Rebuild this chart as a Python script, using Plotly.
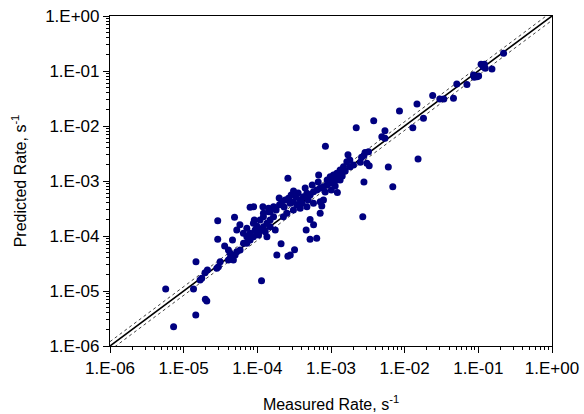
import plotly.graph_objects as go

# Measured (x) and predicted (y) rates, s^-1
measured = [
    0.22, 0.109, 0.121, 0.124, 0.153, 0.116, 0.086, 0.096, 0.101, 0.088,
    0.070, 0.051, 0.046, 0.030, 0.034, 0.024, 0.0147, 0.018, 0.0129, 0.0085,
    0.0038, 0.0022, 0.0054, 0.0049, 0.0054, 0.0029, 0.0028, 0.0026, 0.0025, 0.0033,
    0.0060, 0.0152, 0.0028, 0.0069, 0.0027, 0.0017, 0.0018,
    2.6e-4, 6.8e-4, 1.22e-3, 3.1e-4, 8.9e-5, 1.19e-4, 1.42e-4, 2.0e-4, 2.9e-5, 4.9e-5,
    5.8e-5, 9.1e-5, 1.21e-4, 7.9e-4, 7.5e-4, 5.2e-4, 5.8e-4, 4.6e-4, 5.2e-4, 6.4e-4,
    2.1e-4, 1.84e-4, 2.6e-4, 2.8e-4, 3.2e-4, 1.14e-4, 2.9e-5, 4.6e-5, 3.6e-5, 6.5e-5,
    1.47e-5, 2.1e-5, 1.95e-5, 1.76e-5, 1.67e-5, 2.82e-5, 2.96e-5, 1.36e-5, 5.7e-6, 1.97e-5,
    2.06e-5, 1.46e-5, 7.3e-6, 4.05e-5, 4.27e-5, 4.73e-5, 5.26e-5, 8.4e-4, 7.98e-5, 5.26e-5,
    7.2e-5, 8.85e-5, 7.98e-5, 6.47e-5, 7.2e-5, 8.85e-5, 9.84e-5, 1.04e-4, 4.05e-5, 4.27e-5,
    5.83e-5, 4.99e-5, 3.13e-5, 2.15e-4, 2.39e-4, 2.65e-4, 2.79e-4, 3.09e-4, 3.44e-4, 3.82e-4,
    4.23e-4, 4.71e-4, 5.21e-4, 5.78e-4, 6.43e-4, 7.13e-4, 7.91e-4, 8.79e-4, 9.75e-4, 1.08e-3,
    1.2e-3, 1.26e-3, 1.66e-4, 1.49e-4, 1.35e-4, 1.21e-4, 1.09e-4, 9.84e-5, 7.98e-5, 7.2e-5,
    1.66e-4, 1.49e-4, 1.09e-4, 2.26e-4, 2.52e-4, 3.09e-4, 3.82e-4, 4.71e-4, 5.78e-4, 7.13e-4,
    1.64e-3, 3.23e-3, 3.07e-3, 1.48e-3, 1.33e-3, 1.2e-3, 1.08e-3, 9.75e-4, 1.82e-3, 2.02e-3,
    7.13e-4, 1.28e-4, 1.35e-4, 1.49e-4, 1.75e-4, 1.21e-4, 1.42e-4, 1.04e-4, 9.33e-5, 3.58e-4,
    4.46e-4, 5.56e-4, 6.7e-4, 8.34e-4, 1.01e-3, 3.37e-4, 4.9e-4, 1.8e-4, 1.98e-4, 2.31e-4,
    2.88e-4, 4.06e-4, 8.87e-4, 1.14e-3, 1.42e-3, 1.56e-3, 1.33e-3,
]
predicted = [
    0.21, 0.132, 0.132, 0.112, 0.109, 0.12, 0.085, 0.079, 0.081, 0.077,
    0.057, 0.058, 0.032, 0.031, 0.031, 0.036, 0.025, 0.0138, 0.0093, 0.0187,
    0.0125, 0.0093, 0.0082, 0.0064, 0.0060, 0.0033, 0.0029, 0.0027, 0.0022, 0.0019,
    0.0018, 0.0025, 0.00096, 0.00079, 0.000224, 0.0030, 0.0024,
    1.12e-3, 1.29e-3, 6.2e-4, 6.6e-4, 3.4e-4, 3.4e-4, 3.2e-4, 3.7e-4, 1.9e-4, 2.2e-4,
    1.6e-4, 1.95e-4, 2.6e-4, 4.5e-4, 3.5e-4, 2.0e-4, 1.6e-4, 1.29e-4, 8.7e-5, 9.1e-5,
    7.2e-5, 4.5e-5, 4.3e-5, 4.5e-5, 5.6e-5, 1.54e-5, 8.7e-5, 8.5e-5, 6.6e-5, 7.4e-5,
    3.4e-5, 2.4e-5, 2.15e-5, 1.7e-5, 1.58e-5, 2.59e-5, 2.77e-5, 1.09e-5, 1.09e-5, 7.06e-6,
    6.58e-6, 3.66e-6, 2.24e-6, 3.66e-5, 3.93e-5, 3.66e-5, 5.19e-5, 4.3e-3, 3.33e-4, 1.29e-4,
    1.38e-4, 1.7e-4, 1.12e-4, 1.12e-4, 9.7e-5, 9.7e-5, 1.12e-4, 1.29e-4, 5.56e-5, 4.85e-5,
    5.56e-5, 4.52e-5, 3.41e-5, 4.2e-4, 4.52e-4, 4.85e-4, 3.93e-4, 4.2e-4, 3.66e-4, 4.52e-4,
    5.19e-4, 5.97e-4, 5.56e-4, 6.38e-4, 6.86e-4, 7.37e-4, 7.88e-4, 8.46e-4, 9.08e-4, 9.71e-4,
    1.04e-3, 1.12e-3, 2.24e-4, 1.95e-4, 1.7e-4, 1.48e-4, 1.29e-4, 1.52e-4, 8.46e-5, 7.37e-5,
    3.41e-4, 2.77e-4, 1.95e-4, 2.24e-4, 2.59e-4, 2.97e-4, 3.19e-4, 3.41e-4, 3.93e-4, 4.2e-4,
    2.24e-3, 3.41e-3, 2.1e-3, 1.82e-3, 1.58e-3, 1.38e-3, 1.29e-3, 1.2e-3, 1.82e-3, 1.95e-3,
    2.59e-4, 1.2e-4, 9.7e-5, 1.48e-4, 1.29e-4, 2.24e-4, 2.77e-4, 1.04e-4, 1.29e-4, 6.05e-4,
    7.46e-4, 8.46e-4, 9.6e-4, 6.31e-4, 6.86e-4, 5.12e-4, 4.52e-4, 2.97e-4, 4.91e-4, 3.37e-4,
    5.56e-4, 3.98e-4, 1.04e-3, 8.11e-4, 1.23e-3, 1.52e-3, 1.04e-3,
]

# 1:1 line and +/- band lines
line_x = [1e-6, 1.0]
line_y = [1e-6, 1.0]
band_upper_y = [1.2e-6, 1.2]
band_lower_y = [1e-6 / 1.2, 1.0 / 1.2]

tick_vals = [1e-6, 1e-5, 1e-4, 1e-3, 1e-2, 1e-1, 1.0]
tick_text = ["1.E-06", "1.E-05", "1.E-04", "1.E-03", "1.E-02", "1.E-01", "1.E+00"]

FONT = "Liberation Sans, Arial, sans-serif"

fig = go.Figure()
fig.add_trace(go.Scatter(x=line_x, y=band_upper_y, mode="lines",
                         line=dict(color="#444444", width=1, dash="dot"),
                         hoverinfo="skip", showlegend=False))
fig.add_trace(go.Scatter(x=line_x, y=band_lower_y, mode="lines",
                         line=dict(color="#444444", width=1, dash="dot"),
                         hoverinfo="skip", showlegend=False))
fig.add_trace(go.Scatter(x=line_x, y=line_y, mode="lines",
                         line=dict(color="black", width=1.6),
                         hoverinfo="skip", showlegend=False))
fig.add_trace(go.Scatter(x=measured, y=predicted, mode="markers",
                         marker=dict(color="#000080", size=7, line=dict(width=0)),
                         showlegend=False))

axis_common = dict(
    type="log",
    range=[-6, 0],
    tickmode="array",
    tickvals=tick_vals,
    ticktext=tick_text,
    ticks="outside",
    ticklen=6,
    tickwidth=1,
    tickcolor="black",
    showline=True,
    linecolor="black",
    linewidth=1.2,
    mirror=True,
    showgrid=False,
    zeroline=False,
    automargin=False,
    tickfont=dict(family=FONT, size=17, color="black"),
    minor=dict(ticks="outside", ticklen=3, tickwidth=1, tickcolor="black",
               dtick="D1", showgrid=False),
)

fig.update_layout(
    width=584,
    height=414,
    margin=dict(l=110, r=32, t=16, b=68),
    paper_bgcolor="white",
    plot_bgcolor="white",
    font=dict(family=FONT, size=16, color="black"),
    xaxis=dict(axis_common,
               title=dict(text="Measured Rate, s<sup>-1</sup>",
                          font=dict(family=FONT, size=16), standoff=22)),
    yaxis=dict(axis_common,
               title=dict(text="Predicted Rate, s<sup>-1</sup>",
                          font=dict(family=FONT, size=16), standoff=14)),
)

fig.write_html("out.html")
